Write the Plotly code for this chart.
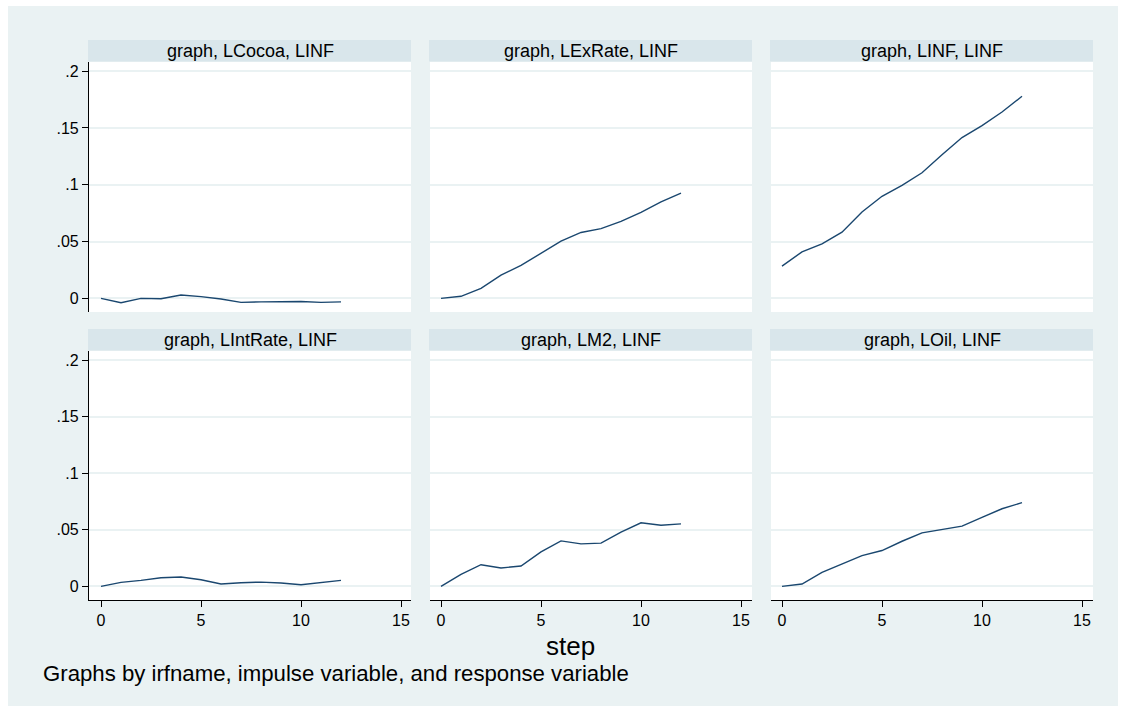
import plotly.graph_objects as go

W, H = 1121, 708

steps = list(range(13))
panel_titles = ["graph, LCocoa, LINF", "graph, LExRate, LINF", "graph, LINF, LINF",
                "graph, LIntRate, LINF", "graph, LM2, LINF", "graph, LOil, LINF"]
irf_lcocoa = [0.0, -0.0038, 0.0, -0.0003, 0.0029, 0.0015, -0.0006, -0.0035, -0.0031, -0.0027, -0.0027, -0.0035, -0.0031]
irf_lexrate = [0.0, 0.0018, 0.0088, 0.0205, 0.029, 0.040, 0.0503, 0.058, 0.0614, 0.0678, 0.0757, 0.085, 0.0927]
irf_linf = [0.0284, 0.0409, 0.048, 0.0582, 0.076, 0.0898, 0.0994, 0.1105, 0.1263, 0.1415, 0.152, 0.164, 0.1778]
irf_lintrate = [0.0, 0.0036, 0.0053, 0.0077, 0.0083, 0.0059, 0.0021, 0.0033, 0.0038, 0.003, 0.0015, 0.0036, 0.0053]
irf_lm2 = [0.0, 0.0107, 0.0192, 0.0163, 0.018, 0.0305, 0.0402, 0.0376, 0.0382, 0.048, 0.0562, 0.0541, 0.0553]
irf_loil = [0.0, 0.0021, 0.0124, 0.0198, 0.0272, 0.0317, 0.0399, 0.0473, 0.0503, 0.0533, 0.061, 0.0686, 0.074]
series = [irf_lcocoa, irf_lexrate, irf_linf, irf_lintrate, irf_lm2, irf_loil]

y_tickvals = [0, 0.05, 0.1, 0.15, 0.2]
y_ticktext = ["0", ".05", ".1", ".15", ".2"]
x_tickvals = [0, 5, 10, 15]
x_ticktext = ["0", "5", "10", "15"]
x_title = "step"
note = "Graphs by irfname, impulse variable, and response variable"

BG = "#eaf2f3"
STRIP = "#d9e6eb"
LINE = "#1a476f"
FONT = "Liberation Sans, Arial, sans-serif"

def px(x):
    return x / W

def py(y):
    return 1 - y / H

cols = [(89, 411, 101), (430, 752, 441), (771, 1093, 782)]
rows = [(62, 312, 40, 61.5), (351, 600, 329, 350.5)]

fig = go.Figure()
layout = dict(width=W, height=H, margin=dict(l=0, r=0, t=0, b=0),
              paper_bgcolor=BG, plot_bgcolor="white", showlegend=False,
              font=dict(family=FONT, color="black", size=16))
shapes = []
annotations = []

# white outer frame
for (x0, y0, x1, y1) in [(0, 0, 8, H), (0, 0, W, 6), (1118, 0, W, H), (0, 706, W, H)]:
    shapes.append(dict(type="rect", xref="paper", yref="paper", x0=px(x0), x1=px(x1),
                       y0=py(y1), y1=py(y0), fillcolor="white", line=dict(width=0), layer="below"))

for i in range(6):
    r, c = divmod(i, 3)
    cx0, cx1, zero = cols[c]
    ry0, ry1, sy0, sy1 = rows[r]
    n = i + 1
    sfx = str(n) if n > 1 else ""
    xr = [(cx0 - zero) / 20.0, (cx1 - zero) / 20.0]
    fig.add_trace(go.Scatter(x=steps, y=series[i], mode="lines",
                             line=dict(color=LINE, width=1.4),
                             xaxis="x" + sfx, yaxis="y" + sfx))
    bottom = (r == 1)
    left = (c == 0)
    layout["xaxis" + sfx] = dict(domain=[px(cx0), px(cx1)], range=xr, anchor="y" + sfx,
                      showgrid=False, zeroline=False,
                      showline=bottom, linecolor="black", linewidth=1.2,
                      ticks="outside" if bottom else "", ticklen=6, tickcolor="black", tickwidth=1.2,
                      tickvals=x_tickvals, ticktext=x_ticktext, showticklabels=bottom,
                      tickfont=dict(size=16, family=FONT, color="black"))
    layout["yaxis" + sfx] = dict(domain=[py(ry1), py(ry0)], range=[-0.012, 0.208], anchor="x" + sfx,
                      showgrid=True, gridcolor=BG, gridwidth=1.6, zeroline=False,
                      showline=left, linecolor="black", linewidth=1.2,
                      ticks="outside" if left else "", ticklen=6, tickcolor="black", tickwidth=1.2,
                      tickvals=y_tickvals, ticktext=y_ticktext, showticklabels=left,
                      tickfont=dict(size=16, family=FONT, color="black"))
    shapes.append(dict(type="rect", xref="paper", yref="paper", x0=px(cx0 - 1), x1=px(cx1),
                       y0=py(sy1), y1=py(sy0), fillcolor=STRIP, line=dict(width=0), layer="below"))
    annotations.append(dict(text=panel_titles[i], xref="paper", yref="paper",
                            x=px((cx0 + cx1) / 2), y=py((sy0 + sy1) / 2),
                            xanchor="center", yanchor="middle", showarrow=False,
                            font=dict(size=18, family=FONT, color="black")))

annotations.append(dict(text=x_title, xref="paper", yref="paper", x=px(570), y=py(646),
                        xanchor="center", yanchor="middle", showarrow=False,
                        font=dict(size=26, family=FONT, color="black")))
annotations.append(dict(text=note, xref="paper", yref="paper", x=px(41), y=py(673),
                        xanchor="left", yanchor="middle", showarrow=False,
                        font=dict(size=22.2, family=FONT, color="black")))

layout["shapes"] = shapes
layout["annotations"] = annotations
fig.update_layout(**layout)
fig.write_html("out.html", config={"displayModeBar": False},
               post_script="document.body.style.margin='0';document.body.style.overflow='hidden';")
